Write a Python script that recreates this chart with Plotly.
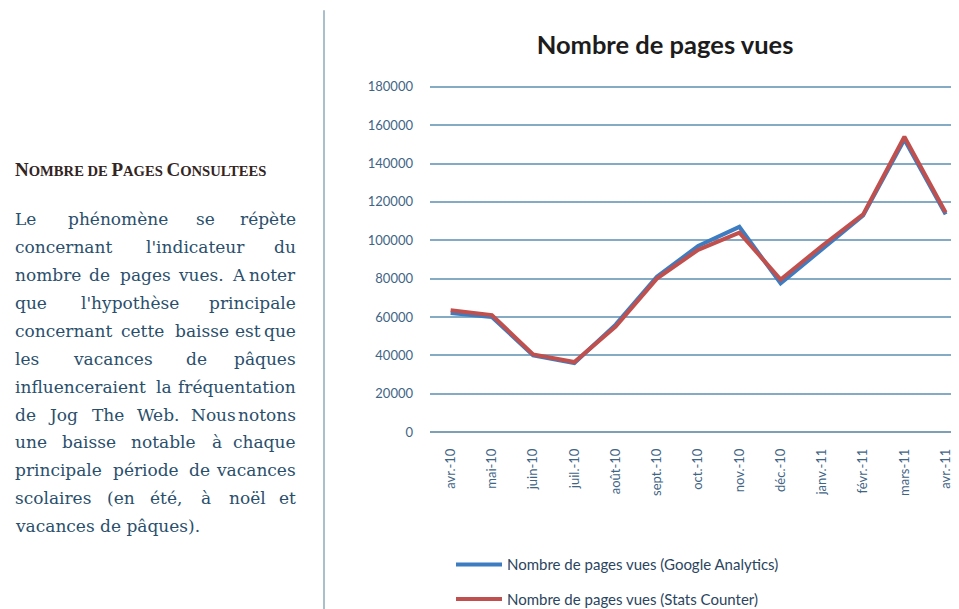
import plotly.graph_objects as go

# chart data
months = ['avr.-10', 'mai-10', 'juin-10', 'juil.-10', 'août-10', 'sept.-10', 'oct.-10',
          'nov.-10', 'déc.-10', 'janv.-11', 'févr.-11', 'mars-11', 'avr.-11']
google_analytics = [62000, 60000, 40000, 36000, 56000, 81000, 97000,
                    107000, 77500, 95500, 113000, 152500, 113500]
stats_counter = [63500, 61000, 40500, 36500, 55000, 80000, 95000,
                 104000, 79500, 97000, 113500, 154000, 114500]

# side text of the report page
body_lines = [
    'Le phénomène se répète',
    "concernant l'indicateur du",
    'nombre de pages vues. A noter',
    "que l'hypothèse principale",
    'concernant cette baisse est que',
    'les vacances de pâques',
    'influenceraient la fréquentation',
    'de Jog The Web. Nous notons',
    'une baisse notable à chaque',
    'principale période de vacances',
    'scolaires (en été, à noël et',
    'vacances de pâques).',
]

# the page body adds 8px around the figure, so the figure is drawn 8px smaller
OFF = 8
Y_MAX = 181500
y_top_page = 86.7 - (Y_MAX - 180000) * (432.5 - 86.7) / 180000
W, H = 959 - OFF, 609 - OFF
L, R, T = 430 - OFF, 0, y_top_page - OFF
B = H - (432.5 - OFF)
PW, PH = W - L - R, H - T - B


def xp(px):
    # px / py are positions on the final 959x609 page
    return (px - OFF - L) / PW


def yp(py):
    return (H - B - (py - OFF)) / PH


# rough DejaVu Serif glyph widths (em) to spread words for justified lines
NARROW = set("ilj.,;:'()![]")
MID = set('frtsI')
WIDE = set('mwMW')


def word_w(word, size):
    w = 0
    for c in word:
        if c in NARROW:
            w += 0.33
        elif c in MID:
            w += 0.45
        elif c in WIDE:
            w += 0.93
        elif c.isupper():
            w += 0.72
        else:
            w += 0.6
    return w * size


fig = go.Figure()

fig.add_trace(go.Scatter(
    x=months, y=google_analytics, mode='lines',
    name='Nombre de pages vues (Google Analytics)',
    line=dict(color='#3d7cc0', width=4),
    legendgroup='ga',
))
fig.add_trace(go.Scatter(
    x=months, y=stats_counter, mode='lines',
    name='Nombre de pages vues (Stats Counter)',
    line=dict(color='#c0504d', width=4),
    legendgroup='sc',
))

tick_font = dict(family='Lato', size=13, color='#3f6585')

fig.update_xaxes(
    type='category',
    range=[-0.5, -0.5 + PW / 41.25],
    tickangle=-90,
    tickfont=tick_font,
    ticklabelstandoff=13,
    showgrid=False,
    showline=False,
    ticks='',
    automargin=False,
)
fig.update_yaxes(
    range=[0, Y_MAX],
    dtick=20000,
    tickformat='d',
    tickfont=tick_font,
    ticklabelstandoff=16,
    showgrid=True,
    gridcolor='#84aac4',
    gridwidth=1.7,
    zeroline=True,
    zerolinecolor='#7f9fb4',
    zerolinewidth=1.7,
    ticks='',
    automargin=False,
)

annotations = []
annotations.append(dict(
    x=xp(13), y=yp(169), xref='paper', yref='paper', xanchor='left', yanchor='middle',
    showarrow=False,
    text='<b>N<span style="font-size:14.6px">OMBRE DE </span>P<span style="font-size:14.6px">AGES </span>'
         'C<span style="font-size:14.6px">ONSULTEES</span></b>',
    font=dict(family='Liberation Serif', size=19, color='#33251f'),
))

body_font = dict(family='DejaVu Serif', size=17, color='#2a4f6c')
x0, x1 = 13, 298
for i, line in enumerate(body_lines):
    py = 219 + i * 28
    words = line.split(' ')
    if i == len(body_lines) - 1 or len(words) == 1:
        annotations.append(dict(x=xp(x0), y=yp(py), xref='paper', yref='paper',
                                xanchor='left', yanchor='middle', showarrow=False,
                                text=line, font=body_font))
        continue
    widths = [word_w(w, body_font['size']) for w in words]
    gap = (x1 - x0 - sum(widths)) / (len(words) - 1)
    pos = x0
    for j, w in enumerate(words):
        last = j == len(words) - 1
        annotations.append(dict(x=xp(x1 if last else pos), y=yp(py), xref='paper', yref='paper',
                                xanchor='right' if last else 'left', yanchor='middle',
                                showarrow=False, text=w, font=body_font))
        pos += widths[j] + gap

fig.update_layout(
    width=W, height=H,
    margin=dict(l=L, r=R, t=T, b=B, autoexpand=False),
    paper_bgcolor='white',
    plot_bgcolor='white',
    title=dict(text='<b>Nombre de pages vues</b>', x=(665 - OFF) / W, xanchor='center',
               y=1 - (45 - OFF) / H, yanchor='middle', xref='container', yref='container',
               font=dict(family='Lato', size=25.5, color='#1c1c1c')),
    legend=dict(orientation='v', x=xp(451), y=yp(549), xanchor='left', yanchor='top',
                font=dict(family='Lato', size=15, color='#2b4560'),
                itemwidth=46, tracegroupgap=12, traceorder='grouped',
                bgcolor='rgba(0,0,0,0)'),
    annotations=annotations,
    shapes=[dict(type='line', xref='paper', yref='paper',
                 x0=xp(324), x1=xp(324), y0=yp(10), y1=yp(612),
                 line=dict(color='#a9bfcc', width=2))],
)

fig.write_html('out.html')
